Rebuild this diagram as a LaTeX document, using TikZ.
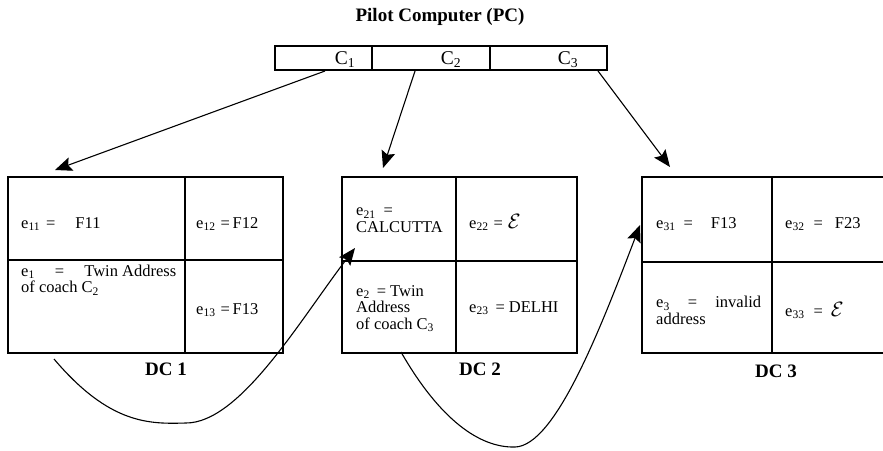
\documentclass[tikz,border=0pt]{standalone}
\usepackage{fontspec}
\setmainfont{Liberation Serif}
\usetikzlibrary{arrows.meta}
\tikzset{
  box/.style={draw, line width=1.1pt, inner sep=0pt, outer sep=0pt, anchor=north west},
  divider/.style={line width=1.1pt},
  celltxt/.style={anchor=base west, inner sep=0pt, align=left, font=\fontsize{16.5}{16.5}\selectfont},
  ctxt/.style={anchor=base, inner sep=0pt, font=\fontsize{19.5}{21}\selectfont},
  dclabel/.style={anchor=base, inner sep=0pt, font=\bfseries\fontsize{19}{20}\selectfont},
  titletxt/.style={anchor=base, inner sep=0pt, font=\bfseries\fontsize{19}{21}\selectfont},
  arr/.style={line width=1.1pt, -{Stealth[length=17pt,width=14pt,inset=3pt]}},
  curvearr/.style={line width=1.1pt, -{Stealth[length=17pt,width=14pt,inset=3pt]}},
}
\newcommand{\eps}{{\fontsize{20}{20}\selectfont$\mathcal{E}$}}
\begin{document}
\begin{tikzpicture}[x=1pt,y=-1pt]
\useasboundingbox (0,0) rectangle (883,450);
% title
\node[titletxt] (title) at (440,21) {Pilot Computer (PC)};
% pilot computer cells
\node[box, minimum width=97pt, minimum height=24pt] (pc1) at (275,46) {};
\node[box, minimum width=118pt, minimum height=24pt] (pc2) at (372,46) {};
\node[box, minimum width=117pt, minimum height=24pt] (pc3) at (490,46) {};
\node[ctxt] (c1) at (345,64) {C\textsubscript{1}};
\node[ctxt] (c2) at (451,64) {C\textsubscript{2}};
\node[ctxt] (c3) at (568,64) {C\textsubscript{3}};
% DC boxes
\node[box, minimum width=275pt, minimum height=176pt] (dc1) at (8,177) {};
\node[box, minimum width=235pt, minimum height=176pt] (dc2) at (342,177) {};
\node[box, minimum width=250pt, minimum height=176pt] (dc3) at (642,177) {};
\draw[divider] (8,260) -- (283,260);
\draw[divider] (185,177) -- (185,353);
\draw[divider] (342,261) -- (577,261);
\draw[divider] (456,177) -- (456,353);
\draw[divider] (642,262) -- (892,262);
\draw[divider] (772,177) -- (772,353);
% DC labels
\node[dclabel] (l1) at (166,375) {DC 1};
\node[dclabel] (l2) at (480,375) {DC 2};
\node[dclabel] (l3) at (776,377) {DC 3};
% DC1 texts (base anchor = last line)
\node[celltxt] (e11) at (21,228) {e\textsubscript{11}\hspace{6pt}=\hspace{20pt}F11};
\node[celltxt] (e12) at (196,228) {e\textsubscript{12}\hspace{5pt}=\,F12};
\node[celltxt] (e1) at (21,292.5) {\hbox to 155pt{e\textsubscript{1}\hfill=\hfill Twin Address}\\of coach C\textsubscript{2}};
\node[celltxt] (e13) at (196,314) {e\textsubscript{13}\hspace{5pt}=\,F13};
% DC2 texts
\node[celltxt] (e21) at (356,232) {e\textsubscript{21}\hspace{8pt}=\\CALCUTTA};
\node[celltxt] (e22) at (469,228) {e\textsubscript{22}\hspace{5pt}=\hspace{5pt}\eps};
\node[celltxt] (e2) at (356,329) {e\textsubscript{2}\hspace{7pt}= Twin\\Address\\of coach C\textsubscript{3}};
\node[celltxt] (e23) at (469,312) {e\textsubscript{23}\hspace{7pt}= DELHI};
% DC3 texts
\node[celltxt] (e31) at (656,228) {e\textsubscript{31}\hspace{8pt}=\hspace{18pt}F13};
\node[celltxt] (e32) at (785,228) {e\textsubscript{32}\hspace{9pt}=\hspace{12pt}F23};
\node[celltxt] (e3) at (656,324) {\hbox to 105pt{e\textsubscript{3}\hfill=\hfill invalid}\\address};
\node[celltxt] (e33) at (785,316) {e\textsubscript{33}\hspace{9pt}=\hspace{8pt}\eps};
% arrow endpoints
\coordinate (s1) at (325,71);
\coordinate (t1) at (55,170);
\coordinate (s2) at (415,71);
\coordinate (t2) at (383,168);
\coordinate (s3) at (598,71);
\coordinate (t3) at (670,167);
\draw[arr] (s1) -- (t1);
\draw[arr] (s2) -- (t2);
\draw[arr] (s3) -- (t3);
% curved connectors
\coordinate (u1) at (54,359);
\coordinate (m1) at (186,423);
\coordinate (v1) at (355,248);
\coordinate (u2) at (401,352);
\coordinate (m2) at (515,447);
\coordinate (v2) at (640,225);
\draw[curvearr] (u1) .. controls (110,425) and (150,424) .. (m1)
  .. controls (240,423) and (300,320) .. (v1);
\draw[curvearr] (u2) .. controls (440,420) and (480,448) .. (m2)
  .. controls (555,446) and (600,330) .. (v2);
\end{tikzpicture}
\end{document}
